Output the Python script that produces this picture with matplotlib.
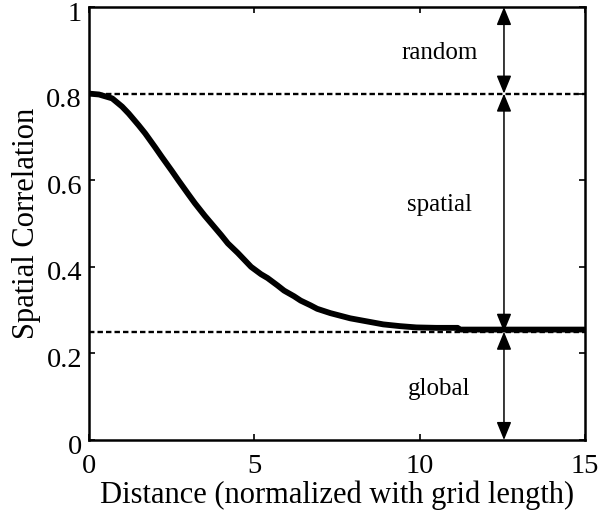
import matplotlib
matplotlib.use("Agg")
import matplotlib.pyplot as plt
import matplotlib.transforms as mtransforms

plt.rcParams['font.family'] = ['Liberation Serif', 'DejaVu Serif']

# correlation curve sampled along the normalized distance
dist = [0, 0.3, 0.7, 1.0, 1.2, 1.5, 1.7, 2.0, 2.2, 2.5, 2.7, 3.0, 3.2, 3.5,
        3.7, 4.0, 4.2, 4.5, 4.9, 5.2, 5.4, 5.7, 5.9, 6.2, 6.4, 6.7, 6.9, 7.3,
        7.9, 8.4, 8.9, 9.4, 9.9, 10.5, 11.15, 11.2, 12.0, 13.0, 14.0, 15.0]
corr = [0.800, 0.798, 0.789, 0.770, 0.754, 0.727, 0.708, 0.676, 0.654, 0.622,
        0.600, 0.568, 0.547, 0.518, 0.500, 0.473, 0.454, 0.432, 0.400, 0.383,
        0.374, 0.357, 0.345, 0.332, 0.322, 0.311, 0.303, 0.293, 0.281, 0.274,
        0.267, 0.263, 0.260, 0.259, 0.259, 0.255, 0.255, 0.255, 0.255, 0.255]

total_level = 0.8
global_level = 0.25
arrow_x = 12.55
label_x = 10.6
components = ['random', 'spatial', 'global']
bounds = [(1.0, total_level), (total_level, global_level), (global_level, 0.0)]
label_y = [0.893, 0.543, 0.118]

fig = plt.figure(figsize=(5.99, 5.16), dpi=100)
ax = fig.add_axes([0.1486, 0.1473, 0.828, 0.8391])

ax.plot(dist, corr, color='black', lw=4.2, solid_capstyle='butt',
        solid_joinstyle='round', zorder=3)

for lvl in (total_level, global_level):
    ax.axhline(lvl, color='black', lw=1.7, linestyle=(0, (2.3, 1.3)), zorder=2)

for (top, bot), name, ly in zip(bounds, components, label_y):
    ax.annotate('', xy=(arrow_x, bot), xytext=(arrow_x, top),
                arrowprops=dict(arrowstyle='<|-|>,head_length=1.1,head_width=0.45',
                                color='black', lw=1.1, shrinkA=0, shrinkB=0))
    ax.text(label_x, ly, name, ha='center', va='center', fontsize=18)

ax.set_xlim(0, 15)
ax.set_ylim(0, 1)
ax.set_xticks([0, 5, 10, 15])
ax.set_yticks([0, 0.2, 0.4, 0.6, 0.8, 1])
ax.set_yticklabels(['0', '0.2', '0.4', '0.6', '0.8', '1'])
ax.tick_params(direction='in', length=4, width=1.2, labelsize=20.5,
               top=True, right=True)
ax.tick_params(axis='x', pad=10)
ax.tick_params(axis='y', pad=5)
for sp in ax.spines.values():
    sp.set_linewidth(1.8)

# nudge y tick labels down a little so the top one stays inside the figure
shift = mtransforms.ScaledTranslation(0, -3 / 72, fig.dpi_scale_trans)
for lbl in ax.get_yticklabels():
    lbl.set_transform(lbl.get_transform() + shift)

ax.set_xlabel('Distance (normalized with grid length)', fontsize=22, labelpad=1)
ax.set_ylabel('Spatial Correlation', fontsize=22, labelpad=4)

fig.savefig('out.png', dpi=100)
plt.close(fig)
